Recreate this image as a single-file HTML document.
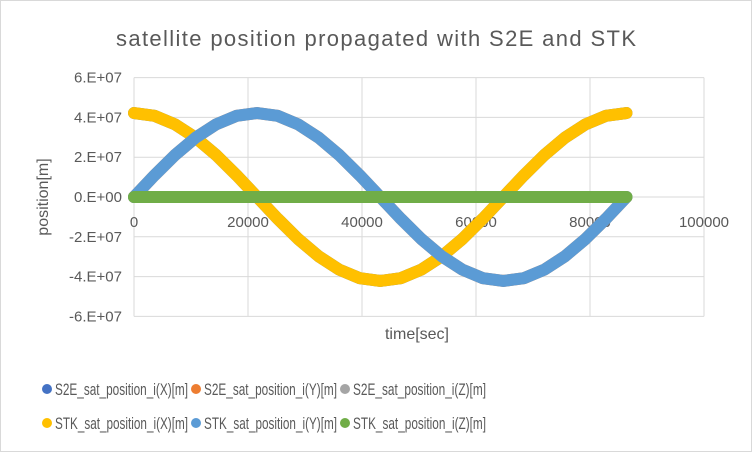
<!DOCTYPE html>
<html><head><meta charset="utf-8"><style>
body{margin:0;background:#fff}
svg{display:block;font-family:"Liberation Sans Narrow","Liberation Sans",sans-serif}
</style></head><body>
<svg id="chart" width="752" height="452" viewBox="0 0 752 452">
<rect x="0.5" y="0.5" width="751" height="451" fill="#fff" stroke="#d9d9d9"/>
<text x="376" y="46" text-anchor="middle" font-size="22" fill="#595959" textLength="520">satellite position propagated with S2E and STK</text>
<g id="grid"></g><g id="axes"></g><g id="series"></g>
<text x="417" y="339" text-anchor="middle" font-size="16" fill="#595959">time[sec]</text>
<text transform="translate(48,197) rotate(-90)" text-anchor="middle" font-size="16" fill="#595959">position[m]</text>
<g id="legend"></g>
</svg>
<script>
const times=[0,3600,7200,10800,14400,18000,21600,25200,28800,32400,36000,39600,43200,46800,50400,54000,57600,61200,64800,68400,72000,75600,79200,82800,86400];
const stkX=[4.22,4.08,3.65,2.98,2.11,1.09,0,-1.09,-2.11,-2.98,-3.65,-4.08,-4.22,-4.08,-3.65,-2.98,-2.11,-1.09,0,1.09,2.11,2.98,3.65,4.08,4.22];
const stkY=[0,1.09,2.11,2.98,3.65,4.08,4.22,4.08,3.65,2.98,2.11,1.09,0,-1.09,-2.11,-2.98,-3.65,-4.08,-4.22,-4.08,-3.65,-2.98,-2.11,-1.09,0];
const stkZ=[0,0,0,0,0,0,0,0,0,0,0,0,0,0,0,0,0,0,0,0,0,0,0,0,0];
const s2eX=stkX.slice(), s2eY=stkY.slice(), s2eZ=stkZ.slice();
const xTicks=[0,20000,40000,60000,80000,100000];
const yTicks=[6,4,2,0,-2,-4,-6];
const yTickLabels=["6.E+07","4.E+07","2.E+07","0.E+00","-2.E+07","-4.E+07","-6.E+07"];
const legendNames=["S2E_sat_position_i(X)[m]","S2E_sat_position_i(Y)[m]","S2E_sat_position_i(Z)[m]","STK_sat_position_i(X)[m]","STK_sat_position_i(Y)[m]","STK_sat_position_i(Z)[m]"];
const NS="http://www.w3.org/2000/svg";
const xs=v=>134+v/100000*570;
const ys=v=>197-v*19.9;
function mk(tag,attrs,parent){const e=document.createElementNS(NS,tag);for(const k in attrs)e.setAttribute(k,attrs[k]);parent.appendChild(e);return e;}
const grid=document.getElementById('grid'),axes=document.getElementById('axes'),ser=document.getElementById('series'),leg=document.getElementById('legend');
yTicks.forEach((t,i)=>{
 const l=mk('line',{x1:134,x2:704,y1:ys(t),y2:ys(t),stroke:'#d9d9d9','stroke-width':1},grid);
 
 
 const tx=mk('text',{x:122,y:ys(t)+5,'text-anchor':'end','font-size':15,fill:'#595959'},axes);
 tx.textContent=yTickLabels[i];
 
 
});
xTicks.forEach(t=>{
 const l=mk('line',{x1:xs(t),x2:xs(t),y1:ys(6),y2:ys(-6),stroke:'#d9d9d9','stroke-width':1},grid);
 
 
 const tx=mk('text',{x:xs(t),y:227,'text-anchor':'middle','font-size':15,fill:'#595959'},axes);
 tx.textContent=String(t);
 
 
});
const series=[[s2eX,'#4472c4'],[s2eY,'#ed7d31'],[s2eZ,'#a5a5a5'],[stkX,'#ffc000'],[stkY,'#5b9bd5'],[stkZ,'#70ad47']];
const snames=['s2e-x','s2e-y','s2e-z','stk-x','stk-y','stk-z'];
series.forEach(([vals,col],i)=>{
 const pts=vals.map((v,j)=>xs(times[j])+','+ys(v)).join(' ');
 const p=mk('polyline',{points:pts,fill:'none',stroke:col,'stroke-width':12,'stroke-linecap':'round','stroke-linejoin':'round'},ser);
 
 
});
legendNames.forEach((n,i)=>{
 const r=Math.floor(i/3),c=i%3;
 const x=47+c*149,y=389+r*34;
 const ci=mk('circle',{cx:x,cy:y,r:5,fill:series[i][1]},leg);
 
 
 const t=mk('text',{x:x+8,y:y+6,'font-size':17,fill:'#595959',textLength:133,lengthAdjust:'spacingAndGlyphs'},leg);
 t.textContent=n;
 
 
});
</script>
</body></html>
